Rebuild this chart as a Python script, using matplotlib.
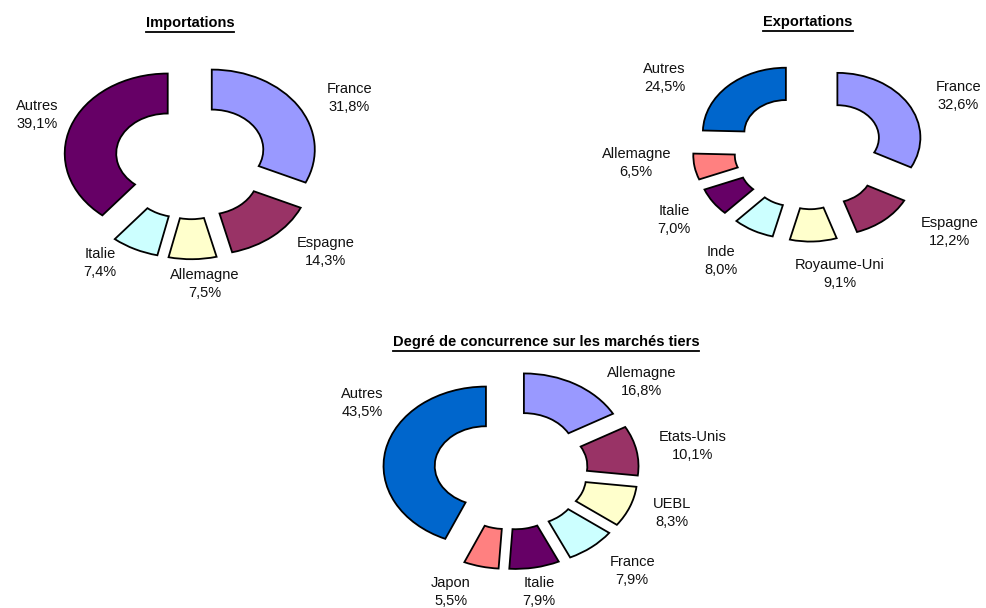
import numpy as np
import matplotlib
matplotlib.use("Agg")
import matplotlib.pyplot as plt
from matplotlib.lines import Line2D

plt.rcParams['font.family'] = ['Liberation Sans', 'DejaVu Sans']

# ---------------- data ----------------
imp_labels = ["France", "Espagne", "Allemagne", "Italie", "Autres"]
imp_values = [31.8, 14.3, 7.5, 7.4, 39.1]

exp_labels = ["France", "Espagne", "Royaume-Uni", "Inde", "Italie", "Allemagne", "Autres"]
exp_values = [32.6, 12.2, 9.1, 8.0, 7.0, 6.5, 24.5]

conc_labels = ["Allemagne", "Etats-Unis", "UEBL", "France", "Italie", "Japon", "Autres"]
conc_values = [16.8, 10.1, 8.3, 7.9, 7.9, 5.5, 43.5]

titles = ["Importations", "Exportations", "Degré de concurrence sur les marchés tiers"]

# ---------------- style ----------------
palette = ["#9999FF", "#993366", "#FFFFCC", "#CCFFFF", "#660066", "#FF8080", "#0066CC"]
imp_colors = palette[:5]
exp_colors = palette
conc_colors = palette

W, H = 986, 608
fig = plt.figure(figsize=(W / 100, H / 100), dpi=100)
fig.patch.set_facecolor("white")


def fmt(v):
    return f"{v:.1f}".replace(".", ",") + "%"


def donut(cx, cy, rx, ry, values, labels, colors, explode, ldist, lnudge):
    a = 2.4
    ax = fig.add_axes([(cx - a * rx) / W, (H - cy - a * ry) / H,
                       2 * a * rx / W, 2 * a * ry / H])
    wedges, _ = ax.pie(values, colors=colors, startangle=90, counterclock=False,
                       explode=[explode] * len(values),
                       wedgeprops=dict(width=0.5, edgecolor="black", linewidth=1.3))
    ax.set_aspect("auto")
    ax.set_xlim(-a, a)
    ax.set_ylim(-a, a)
    ax.axis("off")
    ax.patch.set_alpha(0)
    for w, lab, v, d, nd in zip(wedges, labels, values, ldist, lnudge):
        th = np.deg2rad((w.theta1 + w.theta2) / 2 + nd)
        ax.text(d * np.cos(th), d * np.sin(th), f"{lab}\n{fmt(v)}",
                ha="center", va="center", multialignment="center",
                fontsize=10.5, color="#111111", linespacing=1.35)
    return ax


donut(191, 160, 103, 80, imp_values, imp_labels, imp_colors, 0.24,
      [1.72, 1.74, 1.56, 1.56, 1.60], [-6.0, 8.6, 4.3, -8.3, -0.9])
donut(809, 151, 83, 64.7, exp_values, exp_labels, exp_colors, 0.40,
      [1.99, 2.11, 1.94, 2.00, 1.95, 2.09, 2.07], [-6.0, 12.9, 8.8, -3.3, -1.0, -4.8, 13.0])
donut(511, 470, 102.4, 79.4, conc_values, conc_labels, conc_colors, 0.25,
      [1.69, 1.80, 1.66, 1.74, 1.56, 1.65, 1.68], [-18.9, -1.7, 2.8, 3.8, -0.5, -7.4, -18.4])

title_pos = [(190, 23), (808, 22), (546, 342)]
tobjs = []
for t, (x, y) in zip(titles, title_pos):
    tobjs.append(fig.text(x / W, 1 - y / H, t, ha="center", va="center",
                          fontsize=10.5, fontweight="bold", color="black"))

fig.canvas.draw()
r = fig.canvas.get_renderer()
for t in tobjs:
    bb = t.get_window_extent(r)
    yline = (bb.y0 - 1.5) / H
    fig.add_artist(Line2D([bb.x0 / W, bb.x1 / W], [yline, yline],
                          transform=fig.transFigure, color="black", lw=1.3))

fig.savefig("out.png", dpi=100, facecolor="white")
